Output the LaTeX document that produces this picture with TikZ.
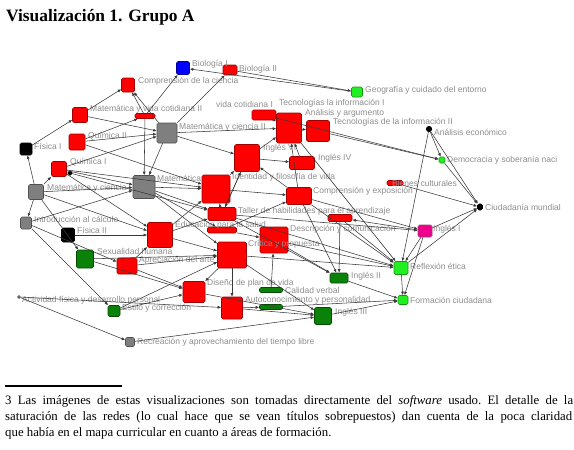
\documentclass[tikz,border=0pt]{standalone}
\usepackage{fontspec}
\setmainfont{Liberation Serif}
\newfontfamily\labfont{Liberation Sans}
\usetikzlibrary{arrows.meta}
\definecolor{rfill}{HTML}{FF0000}
\definecolor{rdraw}{HTML}{A00000}
\definecolor{gfill}{HTML}{7F7F7F}
\definecolor{gdraw}{HTML}{505050}
\definecolor{lgfill}{HTML}{22EE22}
\definecolor{lgdraw}{HTML}{119911}
\definecolor{dgfill}{HTML}{0A820A}
\definecolor{dgdraw}{HTML}{044A04}
\definecolor{labgray}{HTML}{8E8E8E}
\definecolor{edgecol}{HTML}{3A3A3A}
\tikzset{
  nd/.style={rectangle, rounded corners=1.5pt, inner sep=0pt, line width=0.6pt},
  rn/.style={nd, fill=rfill, draw=rdraw},
  gn/.style={nd, fill=gfill, draw=gdraw},
  lgn/.style={nd, fill=lgfill, draw=lgdraw},
  dgn/.style={nd, fill=dgfill, draw=dgdraw},
  kn/.style={nd, fill=black, draw=black},
  bn/.style={nd, fill=blue, draw=blue!60!black},
  mn/.style={nd, fill=magenta, draw=magenta!60!black},
  sz/.style 2 args={minimum width=#1pt, minimum height=#2pt},
  lbl/.style={anchor=west, inner sep=0pt, text=labgray, font=\labfont\fontsize{8.5}{10}\selectfont},
  con/.style={draw=edgecol, line width=0.55pt, -{Latex[length=3.5pt,width=3pt]}},
  foot/.style={anchor=west, inner sep=0pt, font=\fontsize{12.8}{14}\selectfont\frenchspacing}
}
\begin{document}
\begin{tikzpicture}[x=1pt,y=-1pt]
\useasboundingbox (0,0) rectangle (574,450);
\fill[white] (0,0) rectangle (574,450);
% title
\node[anchor=west, inner sep=0pt, font=\bfseries\fontsize{17.4}{20}\selectfont] (title) at (6,17) {Visualización 1. Grupo A};
% nodes
\node[bn, sz={13}{13}] (bio1) at (183,68) {};
\node[rn, sz={14}{10}] (bio2) at (230,70) {};
\node[rn, sz={13}{14}] (cc) at (128,85) {};
\node[lgn, sz={11}{10}] (geo) at (357,92) {};
\node[rn, sz={15}{15}] (mvc2) at (80,115) {};
\node[rn, sz={20}{5}] (mvc1) at (145,116) {};
\node[gn, sz={20}{20}] (mc2) at (167,133) {};
\node[rn, sz={24}{10}] (tec) at (264,115) {};
\node[rn, sz={25}{30}] (aarg) at (289,128) {};
\node[rn, sz={23}{21}] (aa) at (318,131) {};
\node[kn, sz={5}{5}] (ae) at (429,129) {};
\node[kn, sz={12}{12}] (f1) at (26,149) {};
\node[rn, sz={16}{16}] (q2) at (77,142) {};
\node[rn, sz={15}{15}] (q1) at (59,169) {};
\node[kn, sz={4}{4}] (qs) at (70,173) {};
\node[rn, sz={25}{27}] (i6) at (247,158) {};
\node[rn, sz={25}{13}] (i4) at (302,163) {};
\node[lgn, sz={6}{6}] (dem) at (442,160) {};
\node[gn, sz={22}{23}] (gbig) at (144,187) {};
\node[rn, sz={28}{28}] (idf) at (216,189) {};
\node[gn, sz={15}{15}] (mc1) at (36,192) {};
\node[rn, sz={25}{17}] (ce) at (299,196) {};
\node[rn, sz={16}{5}] (bc) at (395,183) {};
\node[kn, sz={5}{6}] (cm) at (480,207) {};
\node[rn, sz={28}{13}] (thp) at (222,214) {};
\node[gn, sz={11}{12}] (ic) at (26,223) {};
\node[rn, sz={24}{7}] (dc) at (340,218) {};
\node[mn, sz={14}{12}] (ing1) at (425,231) {};
\node[kn, sz={13}{14}] (f2) at (68,235) {};
\node[rn, sz={25}{25}] (eps) at (160,235) {};
\node[rn, sz={29}{6}] (eps2) at (222,230) {};
\node[rn, sz={28}{26}] (cyp) at (274,240) {};
\node[rn, sz={29}{26}] (hs) at (232,255) {};
\node[dgn, sz={17}{18}] (sh) at (85,259) {};
\node[rn, sz={20}{16}] (ap) at (127,266) {};
\node[rn, sz={22}{21}] (dpv) at (194,292) {};
\node[rn, sz={21}{22}] (acp) at (232,308) {};
\node[dgn, sz={23}{5}] (hv1) at (271,290) {};
\node[dgn, sz={23}{5}] (hv2) at (271,307) {};
\node[dgn, sz={18}{10}] (i2) at (339,278) {};
\node[dgn, sz={17}{17}] (i3) at (323,316) {};
\node[lgn, sz={14}{13}] (re) at (401,268) {};
\node[lgn, sz={10}{9}] (fc) at (403,300) {};
\node[dgn, sz={12}{11}] (ec) at (114,311) {};
\node[gn, sz={3}{3}] (afd) at (19,297) {};
\node[gn, sz={9}{9}] (rat) at (130,342) {};
% labels
\node[lbl] (l-bio1) at (192,64) {Biología I};
\node[lbl] (l-bio2) at (239,69) {Biología II};
\node[lbl] (l-cc) at (138,81) {Comprensión de la ciencia};
\node[lbl] (l-geo) at (365,90) {Geografía y cuidado del entorno};
\node[lbl] (l-mvc2) at (90,109) {Matemática y vida cotidiana II};
\node[lbl] (l-vc) at (216,104) {vida cotidiana I};
\node[lbl] (l-tec) at (279,103) {Tecnologías la información I};
\node[lbl] (l-mc2) at (179,127) {Matemática y ciencia II};
\node[lbl] (l-aarg) at (305,113) {Análisis y argumento};
\node[lbl] (l-aa) at (333,122) {Tecnologías de la información II};
\node[lbl] (l-ae) at (434,132) {Análisis económico};
\node[lbl] (l-f1) at (34,146) {Física I};
\node[lbl] (l-q2) at (88,136) {Química II};
\node[lbl] (l-q1) at (70,162) {Química I};
\node[lbl] (l-i6) at (263,148) {Inglés VI};
\node[lbl] (l-i4) at (318,158) {Inglés IV};
\node[lbl] (l-dem) at (447,160) {Democracia y soberanía naci};
\node[lbl] (l-gbig) at (157,178) {Matemática};
\node[lbl] (l-idf) at (232,177) {Identidad y filosofía de vida};
\node[lbl] (l-mc1) at (47,188) {Matemática y ciencia I};
\node[lbl] (l-ce) at (313,191) {Comprensión y exposición};
\node[lbl] (l-bc) at (392,183) {Bienes culturales};
\node[lbl] (l-cm) at (485,207) {Ciudadanía mundial};
\node[lbl] (l-thp) at (238,211) {Taller de habilidades para el aprendizaje};
\node[lbl] (l-ic) at (34,219) {Introducción al cálculo};
\node[lbl] (l-cyp) at (290,229) {Descripción y comunicación};
\node[lbl] (l-ing1) at (433,229) {Inglés I};
\node[lbl] (l-f2) at (77,230) {Física II};
\node[lbl] (l-eps) at (175,225) {Educación para la salud};
\node[lbl] (l-hs) at (248,244) {Crítica y propuesta};
\node[lbl] (l-sh) at (97,251) {Sexualidad humana};
\node[lbl] (l-ap) at (139,260) {Apreciación del arte};
\node[lbl] (l-dpv) at (207,283) {Diseño de plan de vida};
\node[lbl] (l-acp) at (245,300) {Autoconocimiento y personalidad};
\node[lbl] (l-hv1) at (285,290) {Calidad verbal};
\node[lbl] (l-i2) at (351,276) {Inglés II};
\node[lbl] (l-i3) at (335,312) {Inglés III};
\node[lbl] (l-re) at (410,266) {Reflexión ética};
\node[lbl] (l-fc) at (410,300) {Formación ciudadana};
\node[lbl] (l-ec) at (122,308) {Estilo y corrección};
\node[lbl] (l-afd) at (22,300) {Actividad física y desarrollo personal};
\node[lbl] (l-rat) at (137,342) {Recreación y aprovechamiento del tiempo libre};
% connectors
\foreach \a/\b in {geo/bio1, bio2/geo, mvc2/cc, mvc1/cc, mc2/cc, mvc1/bio1, mc2/bio2,
  mvc2/mc2, q2/mc2, q1/mc2, q2/mvc1, mvc1/gbig, mc2/gbig, f1/mvc2, mc1/f1, mc1/ic, mc1/q1,
  q2/idf, q1/gbig, q1/idf, qs/thp, q1/eps, mc1/gbig, ic/gbig, mc1/eps, mc2/aarg, mc2/i6,
  gbig/thp, gbig/eps2, gbig/hs, eps/idf, eps/thp, eps/hs, sh/hs, ap/hs, ap/eps, mc1/sh,
  ic/ap, f2/eps, ic/ec, afd/rat, ec/hs, ec/dpv, sh/dpv, ap/dpv, afd/acp, rat/i3, hs/acp,
  hs/dpv, hv1/cyp, ce/i2, dc/i2, cyp/i2, thp/i2, dpv/i3, hs/i3, acp/i3, i2/fc, i3/fc,
  hv2/fc, re/fc, ing1/fc, ce/re, dc/re, thp/re, cyp/re, hs/re, aarg/re, ae/re, ing1/re,
  thp/ing1, ce/ing1, ing1/dc, ing1/cm, re/cm, ae/dem, aa/dem, tec/dem, dem/cm, ae/cm,
  bc/cm, i6/aarg, i4/aarg, ce/aarg, aarg/aa, tec/aarg, ce/i6, thp/i6, i6/i4, idf/ce,
  i6/thp, eps2/ce, thp/idf, gbig/idf, idf/i6, eps2/cyp, acp/hv2}
  \draw[con] (\a) -- (\b);
% footnote
\draw[line width=1.5pt] (5,386) coordinate (fl1) -- (122,386) coordinate (fl2);
\node[foot] (ft1) at (5,401) {\hbox to 568pt{3 Las imágenes de estas visualizaciones son tomadas directamente del \textit{software} usado. El detalle de la}};
\node[foot] (ft2) at (5,417) {\hbox to 567pt{saturación de las redes (lo cual hace que se vean títulos sobrepuestos) dan cuenta de la poca claridad}};
\node[foot] (ft3) at (5,433) {que había en el mapa curricular en cuanto a áreas de formación.};
\end{tikzpicture}
\end{document}
